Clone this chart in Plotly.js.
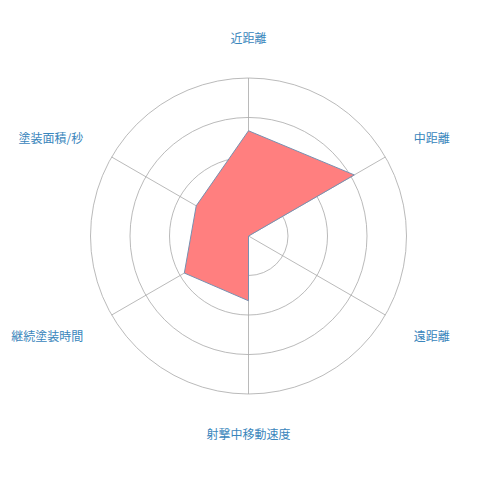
<!DOCTYPE html>
<html>
<head>
<meta charset="utf-8">
<script src="https://cdn.plot.ly/plotly-3.0.1.min.js"></script>
<style>
  html, body { margin: 0; padding: 0; background: #fff; }
  #chart { width: 500px; height: 500px; }
</style>
</head>
<body>
<div id="chart"></div>
<script>
// axes, clockwise from the top
const categories = ['近距離', '中距離', '遠距離', '射撃中移動速度', '継続塗装時間', '塗装面積/秒'];
// values, scale 0-100 (4 rings)
const values = [66.6, 77.3, 0, 41, 46.9, 38.2];
const ringTicks = [25, 50, 75, 100];

const trace = {
    type: 'scatterpolar',
    r: values.concat([values[0]]),
    theta: categories.concat([categories[0]]),
    fill: 'toself',
    fillcolor: '#ff7f7f',
    mode: 'lines',
    line: { color: '#7890b0', width: 1 },
    hoverinfo: 'skip'
};

const layout = {
    width: 500,
    height: 500,
    margin: { l: 0, r: 0, t: 0, b: 0 },
    paper_bgcolor: '#ffffff',
    showlegend: false,
    font: { family: '"Noto Sans CJK JP", "Noto Sans", sans-serif', size: 12, color: '#3a86bc' },
    polar: {
        domain: { x: [0.181, 0.813], y: [0.212, 0.844] },
        bgcolor: 'rgba(0,0,0,0)',
        radialaxis: {
            range: [0, 100],
            tickvals: ringTicks,
            showticklabels: false,
            ticks: '',
            showline: false,
            gridcolor: '#a8a8a8',
            gridwidth: 0.8
        },
        angularaxis: {
            direction: 'clockwise',
            rotation: 90,
            showline: true,
            linecolor: '#a8a8a8',
            linewidth: 0.8,
            gridcolor: '#a8a8a8',
            gridwidth: 0.8,
            ticks: 'outside',
            ticklen: 30,
            tickcolor: 'rgba(0,0,0,0)',
            tickfont: { size: 12, color: '#3a86bc' }
        }
    }
};

Plotly.newPlot('chart', [trace], layout, { displayModeBar: false, staticPlot: true });
</script>
</body>
</html>
